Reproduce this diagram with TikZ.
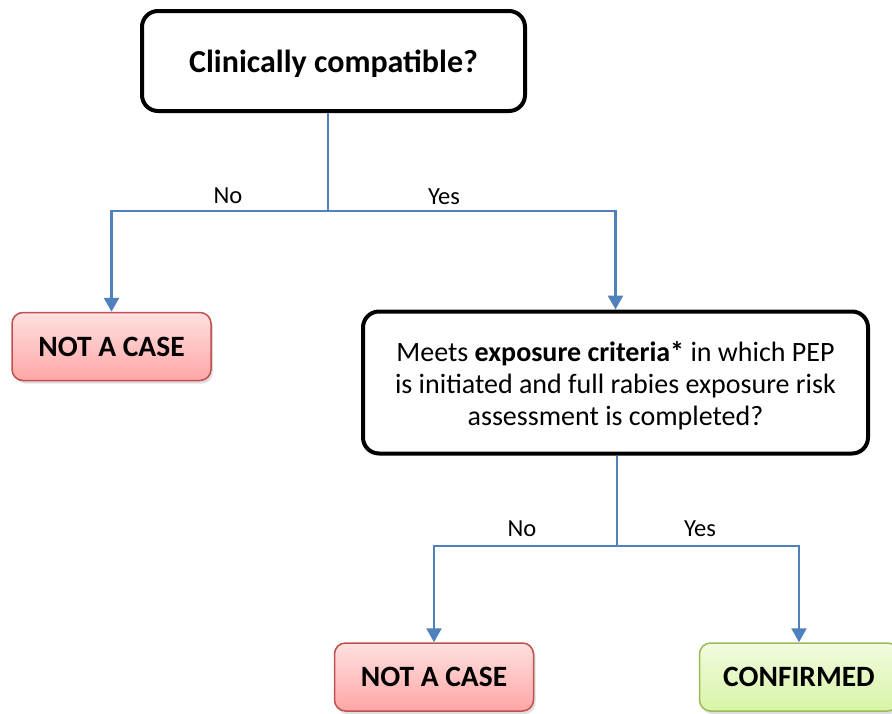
\documentclass[tikz,border=0pt]{standalone}
\usepackage{fontspec}
\setmainfont{Carlito}
\usetikzlibrary{arrows.meta,shadows}
\definecolor{connblue}{HTML}{4F81BD}
\definecolor{redborder}{HTML}{C0504D}
\definecolor{redtop}{HTML}{FFE0E0}
\definecolor{redbot}{HTML}{FFA6A6}
\definecolor{greenborder}{HTML}{9BBB59}
\definecolor{greentop}{HTML}{F2FBDF}
\definecolor{greenbot}{HTML}{D7F5A6}
\tikzset{
  question/.style={draw=black, line width=4pt, rounded corners=16pt, fill=white, align=center, inner sep=0pt},
  outcome/.style={line width=1.5pt, rounded corners=11pt, inner sep=0pt,
    minimum width=199pt, minimum height=68pt, font=\fontsize{29.5}{34}\selectfont\bfseries,
    drop shadow={opacity=0.25, shadow xshift=2pt, shadow yshift=-3pt}},
  redbox/.style={outcome, draw=redborder, top color=redtop, bottom color=redbot},
  greenbox/.style={outcome, draw=greenborder, top color=greentop, bottom color=greenbot},
  conn/.style={draw=connblue, line width=2.5pt},
  arrowconn/.style={conn, -{Triangle[width=15pt,length=14pt]}},
  lbl/.style={font=\fontsize{24.5}{28}\selectfont, inner sep=0pt}
}
\begin{document}
\begin{tikzpicture}[x=1pt,y=-1pt]
\useasboundingbox (0,0) rectangle (892,713);
\begin{scope}
\clip (0,0) rectangle (892,713);
\node[question, minimum width=383pt, minimum height=100pt, font=\fontsize{32}{36}\selectfont\bfseries] (top) at (333.5,61) {\rule{0pt}{29pt}Clinically compatible?};
\node[redbox] (nac1) at (111.5,346.5) {NOT A CASE};
\node[question, minimum width=505pt, minimum height=142pt, font=\fontsize{28}{32}\selectfont] (mid) at (615.5,382.5) {\rule{0pt}{26pt}Meets \textbf{exposure criteria*} in which PEP\\is initiated and full rabies exposure risk\\assessment is completed?};
\node[redbox] (nac2) at (434,677) {NOT A CASE};
\node[greenbox] (conf) at (799,677) {CONFIRMED};

\coordinate (j1) at (328,211);
\coordinate (j2) at (617,546);
\draw[conn] (top.south -| j1) -- (j1);
\draw[arrowconn] (j1) -| (nac1.north);
\draw[arrowconn] (j1) -| (mid.north);
\draw[conn] (mid.south -| j2) -- (j2);
\draw[arrowconn] (j2) -| (nac2.north);
\draw[arrowconn] (j2) -| (conf.north);

\node[lbl] (l1) at (228,196) {No};
\node[lbl] (l2) at (444,197) {Yes};
\node[lbl] (l3) at (522,529) {No};
\node[lbl] (l4) at (700,529) {Yes};
\end{scope}
\end{tikzpicture}
\end{document}
